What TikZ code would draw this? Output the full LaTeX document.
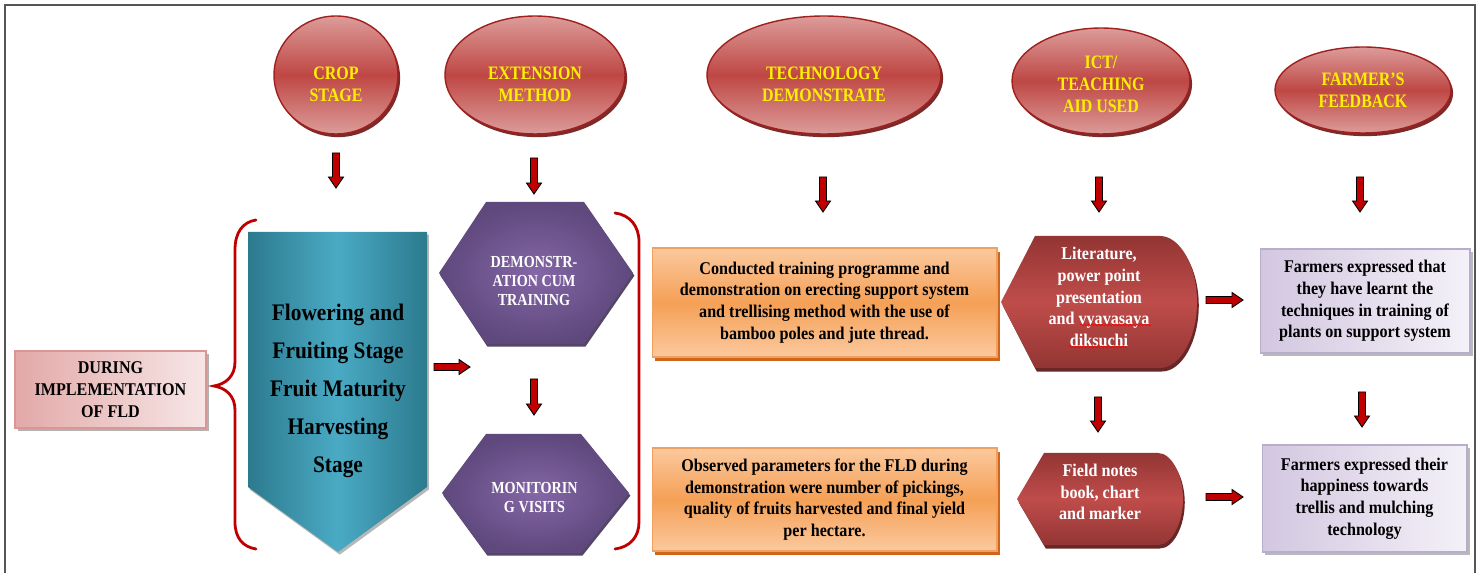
\documentclass[tikz,border=0pt]{standalone}
\usepackage{fontspec}
\setmainfont[FakeStretch=0.9]{Liberation Serif}
\newfontfamily\condf[FakeStretch=0.84]{Liberation Serif}
\usetikzlibrary{shapes.geometric,shadows,calc,decorations.pathmorphing}

\definecolor{ellred}{HTML}{BE4744}
\definecolor{ellpink}{HTML}{DC9C9A}
\definecolor{ellline}{HTML}{A0201E}
\definecolor{ellshadow}{HTML}{6E1414}
\definecolor{yell}{HTML}{FFF000}
\definecolor{arrred}{HTML}{C00000}
\definecolor{tealdark}{HTML}{2C7A8E}
\definecolor{teallight}{HTML}{4AAAC4}
\definecolor{hexdark}{HTML}{5E487C}
\definecolor{hexlight}{HTML}{8467A6}
\definecolor{orlight}{HTML}{FBC99E}
\definecolor{ormid}{HTML}{F5A056}
\definecolor{orborder}{HTML}{F2A060}
\definecolor{orshadow}{HTML}{D0661C}
\definecolor{ictdark}{HTML}{933533}
\definecolor{ictmid}{HTML}{BF4D4A}
\definecolor{lavdark}{HTML}{D2C7E0}
\definecolor{lavlight}{HTML}{F4F1F8}
\definecolor{lavborder}{HTML}{B8AECB}
\definecolor{pinkdark}{HTML}{E2A9A8}
\definecolor{pinklight}{HTML}{F7E6E6}
\definecolor{pinkborder}{HTML}{D89795}
\definecolor{framecol}{HTML}{555555}

\newcommand\blkdown[2]{\path[blk] ($(#1)+(-3.5,0)$) -- ($(#2)+(-3.5,-11)$) -- ($(#2)+(-7.5,-11)$) -- (#2) -- ($(#2)+(7.5,-11)$) -- ($(#2)+(3.5,-11)$) -- ($(#1)+(3.5,0)$) -- cycle;}
\newcommand\blkright[2]{\path[blk] ($(#1)+(0,-3.5)$) -- ($(#2)+(-11,-3.5)$) -- ($(#2)+(-11,-7.5)$) -- (#2) -- ($(#2)+(-11,7.5)$) -- ($(#2)+(-11,3.5)$) -- ($(#1)+(0,3.5)$) -- cycle;}

\begin{document}
\begin{tikzpicture}[x=0.02cm,y=-0.02cm,
  ell/.style={ellipse, draw=ellline, line width=0.8pt, top color=ellpink, bottom color=ellpink, middle color=ellred, inner sep=0pt,
    drop shadow={shadow xshift=1.2pt, shadow yshift=-1.8pt, fill=ellshadow, opacity=0.9}},
  elltext/.style={font=\condf\bfseries\fontsize{10.8}{12.5}\selectfont, text=yell, align=center, inner sep=0pt},
  body/.style={font=\bfseries\fontsize{10.2}{12.35}\selectfont, align=center, inner sep=0pt},
  obox/.style={rectangle, draw=orborder, line width=0.6pt, top color=orlight, bottom color=orlight, middle color=ormid, minimum width=6.9cm,
    drop shadow={shadow xshift=1.5pt, shadow yshift=-2pt, fill=orshadow, opacity=1}, body},
  pbox/.style={rectangle, draw=lavborder, line width=0.6pt, left color=lavdark, right color=lavlight,
    drop shadow={shadow xshift=1.5pt, shadow yshift=-1.5pt, fill=gray!55, opacity=1}, body},
  dbox/.style={rectangle, draw=pinkborder, line width=0.6pt, left color=pinkdark, right color=pinklight,
    drop shadow={shadow xshift=1.5pt, shadow yshift=-1.5pt, fill=gray!60, opacity=1}, body},
  tealshape/.style={left color=tealdark, right color=tealdark, middle color=teallight,
    drop shadow={shadow xshift=1pt, shadow yshift=-1.5pt, fill=gray!70, opacity=0.8}},
  hexshape/.style={inner color=hexlight, outer color=hexdark,
    drop shadow={shadow xshift=0.8pt, shadow yshift=-1.5pt, fill=hexdark!70!black, opacity=0.9}},
  ictshape/.style={top color=ictdark, bottom color=ictdark, middle color=ictmid,
    drop shadow={shadow xshift=1pt, shadow yshift=-2pt, fill=ellshadow!80!black, opacity=0.9}},
  hextext/.style={font=\condf\bfseries\fontsize{9.6}{10.8}\selectfont, text=white, align=center, inner sep=0pt},
  icttext/.style={body, text=white},
  bigtext/.style={font=\bfseries\fontsize{13.5}{21.6}\selectfont, align=center, inner sep=0pt},
  brk/.style={draw=arrred, line width=1.6pt, line cap=round},
  blk/.style={fill=arrred, draw=black, line width=0.5pt, line join=miter},
  spell/.style={draw=red, line width=0.4pt, decorate, decoration={snake, amplitude=0.5pt, segment length=2pt}}
]
\useasboundingbox (0,0) rectangle (1479,573);
\fill[white] (0,0) rectangle (1479,573);
\draw[framecol, line width=1.1pt] (5,573) -- (5,5) -- (1475,5) -- (1475,573);

% ---------- top ellipses ----------
\node[ell, minimum width=2.48cm, minimum height=2.36cm] (crop) at (336,75) {};
\node[elltext] (cropt) at (336,84) {CROP\\STAGE};
\node[ell, minimum width=3.6cm, minimum height=2.36cm] (ext) at (535,75) {};
\node[elltext] (extt) at (535,84) {EXTENSION\\METHOD};
\node[ell, minimum width=4.68cm, minimum height=2.36cm] (tech) at (824,75) {};
\node[elltext] (techt) at (824,84) {TECHNOLOGY\\DEMONSTRATE};
\node[ell, minimum width=3.56cm, minimum height=2.12cm] (ict) at (1101,81) {};
\node[elltext] (ictt) at (1101,84) {ICT/\\TEACHING\\AID USED};
\node[ell, minimum width=3.52cm, minimum height=1.72cm] (farm) at (1363,90) {};
\node[elltext] (farmt) at (1363,90.5) {FARMER’S\\FEEDBACK};

% ---------- left box ----------
\node[dbox, minimum width=3.82cm, minimum height=1.54cm] (during) at (110.5,389.5) {DURING\\IMPLEMENTATION\\OF FLD};

% ---------- brackets ----------
\draw[brk] (256,220) .. controls (243,222) and (235,232) .. (235,250) -- (235,362)
  .. controls (235,376) and (226,384) .. (214,386)
  .. controls (226,388) and (235,396) .. (235,410) -- (235,522)
  .. controls (235,538) and (243,547) .. (256,549);
\draw[brk] (615,213) .. controls (630,215) and (639,226) .. (639,242) -- (639,522)
  .. controls (639,537) and (630,547) .. (615,549);

% ---------- teal stage shape ----------
\path[tealshape] (248,232) -- (427,232) -- (427,487) -- (338,552) -- (248,487) -- cycle;
\node[bigtext] (stage) at (338,391) {Flowering and\\Fruiting Stage\\Fruit Maturity\\Harvesting\\Stage};

% ---------- hexagons ----------
\path[hexshape] (486,202) -- (584,202) -- (633,273) -- (584,344) -- (486,344) -- (439,273) -- cycle;
\node[hextext] (hex1) at (534,281) {DEMONSTR-\\ATION CUM\\TRAINING};
\path[hexshape] (486,434) -- (581,434) -- (629,493) -- (581,553) -- (486,553) -- (442,493) -- cycle;
\node[hextext] (hex2) at (534.5,498) {MONITORIN\\G VISITS};

% ---------- orange boxes ----------
\node[obox, minimum height=2.18cm] (tech1) at (824.5,302.5) {Conducted training programme and\\demonstration on erecting support system\\and trellising method with the use of\\bamboo poles and jute thread.};
\node[obox, minimum height=2.06cm] (tech2) at (824.5,499.5) {Observed parameters for the FLD during\\demonstration were number of pickings,\\quality of fruits harvested and final yield\\per hectare.};

% ---------- ICT shapes ----------
\path[ictshape] (1001,302) -- (1035,236) -- (1160,236) .. controls (1180,236) and (1197,266) .. (1197,302)
  .. controls (1197,338) and (1180,368) .. (1160,368) -- (1035,368) -- cycle;
\node[icttext] (aid1) at (1099,297) {Literature,\\power point\\presentation\\and vyavasaya\\diksuchi};
\path[ictshape] (1017,499) -- (1044,453) -- (1158,453) .. controls (1172,453) and (1183,476) .. (1183,499)
  .. controls (1183,522) and (1172,545) .. (1158,545) -- (1044,545) -- cycle;
\node[icttext] (aid2) at (1100,492) {Field notes\\book, chart\\and marker};
\draw[spell] (1080,325) -- (1151,325);
\draw[spell] (1069,347) -- (1127,347);

% ---------- feedback boxes ----------
\node[pbox, minimum width=4.2cm, minimum height=2.08cm] (fb1) at (1365,301) {Farmers expressed that\\they have learnt the\\techniques in training of\\plants on support system};
\node[pbox, minimum width=4.1cm, minimum height=2.14cm] (fb2) at (1364.5,498.5) {Farmers expressed their\\happiness towards\\trellis and mulching\\technology};

% ---------- arrows ----------
\coordinate (a1s) at (336,153);  \coordinate (a1e) at (336,188);
\coordinate (a2s) at (534,158);  \coordinate (a2e) at (534,194);
\coordinate (a3s) at (823,177);  \coordinate (a3e) at (823,212);
\coordinate (a4s) at (1099,177); \coordinate (a4e) at (1099,212);
\coordinate (a5s) at (1360,177); \coordinate (a5e) at (1360,212);
\coordinate (a6s) at (434,367);  \coordinate (a6e) at (470,367);
\coordinate (a7s) at (534,379);  \coordinate (a7e) at (534,415);
\coordinate (a8s) at (1098,397); \coordinate (a8e) at (1098,432);
\coordinate (a9s) at (1362,392); \coordinate (a9e) at (1362,427);
\coordinate (a10s) at (1206,300); \coordinate (a10e) at (1243,300);
\coordinate (a11s) at (1206,497); \coordinate (a11e) at (1243,497);
\blkdown{a1s}{a1e}
\blkdown{a2s}{a2e}
\blkdown{a3s}{a3e}
\blkdown{a4s}{a4e}
\blkdown{a5s}{a5e}
\blkright{a6s}{a6e}
\blkdown{a7s}{a7e}
\blkdown{a8s}{a8e}
\blkdown{a9s}{a9e}
\blkright{a10s}{a10e}
\blkright{a11s}{a11e}
\end{tikzpicture}
\end{document}
